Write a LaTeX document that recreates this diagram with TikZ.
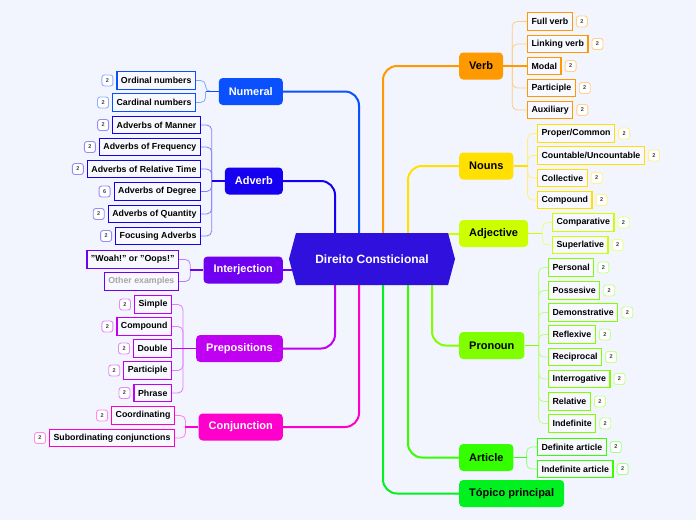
\documentclass[tikz,border=0pt]{standalone}
\usepackage{fontspec}
\setmainfont{Liberation Sans}
\usetikzlibrary{positioning,shapes.symbols}

\definecolor{bgcol}{HTML}{F3F5FE}
\definecolor{leaffill}{HTML}{F8F9FF}
\definecolor{ctrcol}{HTML}{3010DD}
\definecolor{numcol}{HTML}{0A50FF}
\definecolor{advcol}{HTML}{1500F0}
\definecolor{intcol}{HTML}{7000F0}
\definecolor{prepcol}{HTML}{C000F0}
\definecolor{conjcol}{HTML}{FF00CC}
\definecolor{verbcol}{HTML}{FF9900}
\definecolor{nouncol}{HTML}{FFE000}
\definecolor{adjcol}{HTML}{CCFF00}
\definecolor{proncol}{HTML}{80FF00}
\definecolor{artcol}{HTML}{33FF00}
\definecolor{topcol}{HTML}{00F020}

\pgfdeclarelayer{back}
\pgfsetlayers{back,main}

\begin{document}
\begin{tikzpicture}[
	x=1pt, y=-1pt,
	topic/.style={fill=#1, rounded corners=4pt, minimum height=27pt, inner xsep=10pt, inner ysep=0pt, font=\bfseries\fontsize{11}{12}\selectfont},
	leaf/.style={draw=#1, line width=1.2pt, fill=leaffill, minimum height=17.5pt, inner xsep=4pt, inner ysep=0pt, font=\bfseries\fontsize{8.8}{10}\selectfont},
	badge/.style={draw=#1!45, fill=white, rounded corners=2.5pt, line width=0.9pt, minimum size=11pt, inner sep=0pt, text=black!75, font=\bfseries\fontsize{5.5}{6}\selectfont},
	edge/.style={draw=#1, line width=2pt, rounded corners=14pt},
	twig/.style={draw=#1!50, line width=0.8pt, rounded corners=5pt},
	stub/.style={draw=#1, line width=1.6pt}
]

\begin{pgfonlayer}{back}
\fill[bgcol] (0,0) rectangle (696,520);
\end{pgfonlayer}
\useasboundingbox (0,0) rectangle (696,520);

% Central topic
\node[signal, signal to=west and east, signal pointer angle=150, fill=ctrcol, text=white, minimum width=166pt, minimum height=52pt, inner sep=0pt, font=\bfseries\fontsize{12}{13}\selectfont] (ctr) at (372,259) {Direito Consticional};

% Left side topics
\node[topic=numcol, text=white, anchor=east] (numeral) at (283,91.5) {Numeral};
\node[topic=advcol, text=white, anchor=east] (adverb) at (283,181) {Adverb};
\node[topic=intcol, text=white, anchor=east] (interjection) at (283,270) {Interjection};
\node[topic=prepcol, text=white, anchor=east] (prepositions) at (283,348.5) {Prepositions};
\node[topic=conjcol, text=white, anchor=east] (conjunction) at (283,427) {Conjunction};

% Right side topics
\node[topic=verbcol, anchor=west] (verb) at (459,66) {Verb};
\node[topic=nouncol, anchor=west] (nouns) at (459,166) {Nouns};
\node[topic=adjcol, anchor=west] (adjective) at (459,233.5) {Adjective};
\node[topic=proncol, anchor=west] (pronoun) at (459,345.5) {Pronoun};
\node[topic=artcol, anchor=west] (article) at (459,457.5) {Article};
\node[topic=topcol, anchor=west] (topico) at (459,493.5) {Tópico principal};

% Numeral subtopics
\node[leaf=numcol, anchor=east] (ordinal) at (196,80.5) {Ordinal numbers};
\node[leaf=numcol, anchor=east] (cardinal) at (196,102.5) {Cardinal numbers};
\node[badge=numcol, left=3pt of ordinal] (ordinalN) {2};
\node[badge=numcol, left=3pt of cardinal] (cardinalN) {2};

% Adverb subtopics
\node[leaf=advcol, anchor=east] (manner) at (201,125) {Adverbs of Manner};
\node[leaf=advcol, anchor=east] (frequency) at (201,147) {Adverbs of Frequency};
\node[leaf=advcol, anchor=east] (reltime) at (201,169) {Adverbs of Relative Time};
\node[leaf=advcol, anchor=east] (degree) at (201,191.5) {Adverbs of Degree};
\node[leaf=advcol, anchor=east] (quantity) at (201,214) {Adverbs of Quantity};
\node[leaf=advcol, anchor=east] (focusing) at (201,236) {Focusing Adverbs};
\node[badge=advcol, left=3pt of manner] (mannerN) {2};
\node[badge=advcol, left=3pt of frequency] (frequencyN) {2};
\node[badge=advcol, left=3pt of reltime] (reltimeN) {2};
\node[badge=advcol, left=3pt of degree] (degreeN) {6};
\node[badge=advcol, left=3pt of quantity] (quantityN) {2};
\node[badge=advcol, left=3pt of focusing] (focusingN) {2};

% Interjection subtopics
\node[leaf=intcol, anchor=east] (woah) at (179,259.5) {"Woah!" or "Oops!"};
\node[leaf=intcol, anchor=east, text=black!35] (other) at (179,281.5) {Other examples};

% Prepositions subtopics
\node[leaf=prepcol, anchor=east] (simple) at (172,304.5) {Simple};
\node[leaf=prepcol, anchor=east] (compoundP) at (172,326.5) {Compound};
\node[leaf=prepcol, anchor=east] (double) at (172,348.5) {Double};
\node[leaf=prepcol, anchor=east] (participleP) at (172,370.5) {Participle};
\node[leaf=prepcol, anchor=east] (phrase) at (172,393) {Phrase};
\node[badge=prepcol, left=3pt of simple] (simpleN) {2};
\node[badge=prepcol, left=3pt of compoundP] (compoundPN) {2};
\node[badge=prepcol, left=3pt of double] (doubleN) {2};
\node[badge=prepcol, left=3pt of participleP] (participlePN) {2};
\node[badge=prepcol, left=3pt of phrase] (phraseN) {2};

% Conjunction subtopics
\node[leaf=conjcol, anchor=east] (coordinating) at (175,415.5) {Coordinating};
\node[leaf=conjcol, anchor=east] (subordinating) at (175,438) {Subordinating conjunctions};
\node[badge=conjcol, left=3pt of coordinating] (coordinatingN) {2};
\node[badge=conjcol, left=3pt of subordinating] (subordinatingN) {2};

% Verb subtopics
\node[leaf=verbcol, anchor=west] (fullverb) at (527,21.5) {Full verb};
\node[leaf=verbcol, anchor=west] (linking) at (527,44) {Linking verb};
\node[leaf=verbcol, anchor=west] (modal) at (527,66) {Modal};
\node[leaf=verbcol, anchor=west] (participleV) at (527,88) {Participle};
\node[leaf=verbcol, anchor=west] (auxiliary) at (527,110) {Auxiliary};
\node[badge=verbcol, right=3pt of fullverb] (fullverbN) {2};
\node[badge=verbcol, right=3pt of linking] (linkingN) {2};
\node[badge=verbcol, right=3pt of modal] (modalN) {2};
\node[badge=verbcol, right=3pt of participleV] (participleVN) {2};
\node[badge=verbcol, right=3pt of auxiliary] (auxiliaryN) {2};

% Nouns subtopics
\node[leaf=nouncol, anchor=west] (proper) at (537,133.5) {Proper/Common};
\node[leaf=nouncol, anchor=west] (countable) at (537,155.5) {Countable/Uncountable};
\node[leaf=nouncol, anchor=west] (collective) at (537,178) {Collective};
\node[leaf=nouncol, anchor=west] (compoundN) at (537,200) {Compound};
\node[badge=nouncol, right=3pt of proper] (properN) {2};
\node[badge=nouncol, right=3pt of countable] (countableN) {2};
\node[badge=nouncol, right=3pt of collective] (collectiveN) {2};
\node[badge=nouncol, right=3pt of compoundN] (compoundNN) {2};

% Adjective subtopics
\node[leaf=adjcol, anchor=west] (comparative) at (552,222.5) {Comparative};
\node[leaf=adjcol, anchor=west] (superlative) at (552,245) {Superlative};
\node[badge=adjcol, right=3pt of comparative] (comparativeN) {2};
\node[badge=adjcol, right=3pt of superlative] (superlativeN) {2};

% Pronoun subtopics
\node[leaf=proncol, anchor=west] (personal) at (548,267.5) {Personal};
\node[leaf=proncol, anchor=west] (possesive) at (548,290.5) {Possesive};
\node[leaf=proncol, anchor=west] (demonstrative) at (548,312.5) {Demonstrative};
\node[leaf=proncol, anchor=west] (reflexive) at (548,334.5) {Reflexive};
\node[leaf=proncol, anchor=west] (reciprocal) at (548,357) {Reciprocal};
\node[leaf=proncol, anchor=west] (interrogative) at (548,379) {Interrogative};
\node[leaf=proncol, anchor=west] (relative) at (548,401.5) {Relative};
\node[leaf=proncol, anchor=west] (indefinite) at (548,423.5) {Indefinite};
\node[badge=proncol, right=3pt of personal] (personalN) {2};
\node[badge=proncol, right=3pt of possesive] (possesiveN) {2};
\node[badge=proncol, right=3pt of demonstrative] (demonstrativeN) {2};
\node[badge=proncol, right=3pt of reflexive] (reflexiveN) {2};
\node[badge=proncol, right=3pt of reciprocal] (reciprocalN) {2};
\node[badge=proncol, right=3pt of interrogative] (interrogativeN) {2};
\node[badge=proncol, right=3pt of relative] (relativeN) {2};
\node[badge=proncol, right=3pt of indefinite] (indefiniteN) {2};

% Article subtopics
\node[leaf=artcol, anchor=west] (definiteA) at (537,447) {Definite article};
\node[leaf=artcol, anchor=west] (indefiniteA) at (537,469) {Indefinite article};
\node[badge=artcol, right=3pt of definiteA] (definiteAN) {2};
\node[badge=artcol, right=3pt of indefiniteA] (indefiniteAN) {2};

\begin{pgfonlayer}{back}
% Main branches
\draw[edge=numcol] (numeral.east) -| ([xshift=-13pt]ctr.north);
\draw[edge=advcol] (adverb.east) -| ([xshift=-37pt]ctr.north);
\draw[edge=intcol] (interjection.east) -- (interjection.east -| ctr.center);
\draw[edge=prepcol] (prepositions.east) -| ([xshift=-37pt]ctr.south);
\draw[edge=conjcol] (conjunction.east) -| ([xshift=-13pt]ctr.south);
\draw[edge=verbcol] (verb.west) -| ([xshift=11pt]ctr.north);
\draw[edge=nouncol] (nouns.west) -| ([xshift=36pt]ctr.north);
\draw[edge=adjcol] (adjective.west) -- (adjective.west -| ctr.center);
\draw[edge=proncol] (pronoun.west) -| ([xshift=60pt]ctr.south);
\draw[edge=artcol] (article.west) -| ([xshift=36pt]ctr.south);
\draw[edge=topcol] (topico.west) -| ([xshift=11pt]ctr.south);
\end{pgfonlayer}

% Numeral brackets
\draw[twig=numcol] (ordinal.east) -| ([xshift=-13pt]numeral.west) -- (numeral.west);
\draw[twig=numcol] (cardinal.east) -| ([xshift=-13pt]numeral.west);
\draw[stub=numcol] ([xshift=-13pt]numeral.west) -- (numeral.west);

% Adverb brackets
\draw[twig=advcol] (manner.east) -| ([xshift=-13pt]adverb.west);
\draw[twig=advcol] (frequency.east) -| ([xshift=-13pt]adverb.west);
\draw[twig=advcol] (reltime.east) -| ([xshift=-13pt]adverb.west);
\draw[twig=advcol] (degree.east) -| ([xshift=-13pt]adverb.west);
\draw[twig=advcol] (quantity.east) -| ([xshift=-13pt]adverb.west);
\draw[twig=advcol] (focusing.east) -| ([xshift=-13pt]adverb.west);
\draw[stub=advcol] ([xshift=-13pt]adverb.west) -- (adverb.west);

% Interjection brackets
\draw[twig=intcol] (woah.east) -| ([xshift=-13pt]interjection.west);
\draw[twig=intcol] (other.east) -| ([xshift=-13pt]interjection.west);
\draw[stub=intcol] ([xshift=-13pt]interjection.west) -- (interjection.west);

% Prepositions brackets
\draw[twig=prepcol] (simple.east) -| ([xshift=-13pt]prepositions.west);
\draw[twig=prepcol] (compoundP.east) -| ([xshift=-13pt]prepositions.west);
\draw[twig=prepcol] (participleP.east) -| ([xshift=-13pt]prepositions.west);
\draw[twig=prepcol] (phrase.east) -| ([xshift=-13pt]prepositions.west);
\draw[stub=prepcol] (double.east) -- (prepositions.west);

% Conjunction brackets
\draw[twig=conjcol] (coordinating.east) -| ([xshift=-13pt]conjunction.west);
\draw[twig=conjcol] (subordinating.east) -| ([xshift=-13pt]conjunction.west);
\draw[stub=conjcol] ([xshift=-13pt]conjunction.west) -- (conjunction.west);

% Verb brackets
\draw[twig=verbcol] (fullverb.west) -| ([xshift=9pt]verb.east);
\draw[twig=verbcol] (linking.west) -| ([xshift=9pt]verb.east);
\draw[twig=verbcol] (participleV.west) -| ([xshift=9pt]verb.east);
\draw[twig=verbcol] (auxiliary.west) -| ([xshift=9pt]verb.east);
\draw[stub=verbcol] (verb.east) -- (modal.west);

% Nouns brackets
\draw[twig=nouncol] (proper.west) -| ([xshift=14pt]nouns.east);
\draw[twig=nouncol] (countable.west) -| ([xshift=14pt]nouns.east);
\draw[twig=nouncol] (collective.west) -| ([xshift=14pt]nouns.east);
\draw[twig=nouncol] (compoundN.west) -| ([xshift=14pt]nouns.east);
\draw[stub=nouncol] (nouns.east) -- ([xshift=14pt]nouns.east);

% Adjective brackets
\draw[twig=adjcol] (comparative.west) -| ([xshift=14pt]adjective.east);
\draw[twig=adjcol] (superlative.west) -| ([xshift=14pt]adjective.east);
\draw[stub=adjcol] (adjective.east) -- ([xshift=14pt]adjective.east);

% Pronoun brackets
\draw[twig=proncol] (personal.west) -| ([xshift=14pt]pronoun.east);
\draw[twig=proncol] (possesive.west) -| ([xshift=14pt]pronoun.east);
\draw[twig=proncol] (demonstrative.west) -| ([xshift=14pt]pronoun.east);
\draw[twig=proncol] (reflexive.west) -| ([xshift=14pt]pronoun.east);
\draw[twig=proncol] (reciprocal.west) -| ([xshift=14pt]pronoun.east);
\draw[twig=proncol] (interrogative.west) -| ([xshift=14pt]pronoun.east);
\draw[twig=proncol] (relative.west) -| ([xshift=14pt]pronoun.east);
\draw[twig=proncol] (indefinite.west) -| ([xshift=14pt]pronoun.east);
\draw[stub=proncol] (pronoun.east) -- ([xshift=14pt]pronoun.east);

% Article brackets
\draw[twig=artcol] (definiteA.west) -| ([xshift=13pt]article.east);
\draw[twig=artcol] (indefiniteA.west) -| ([xshift=13pt]article.east);
\draw[stub=artcol] (article.east) -- ([xshift=13pt]article.east);

\end{tikzpicture}
\end{document}
